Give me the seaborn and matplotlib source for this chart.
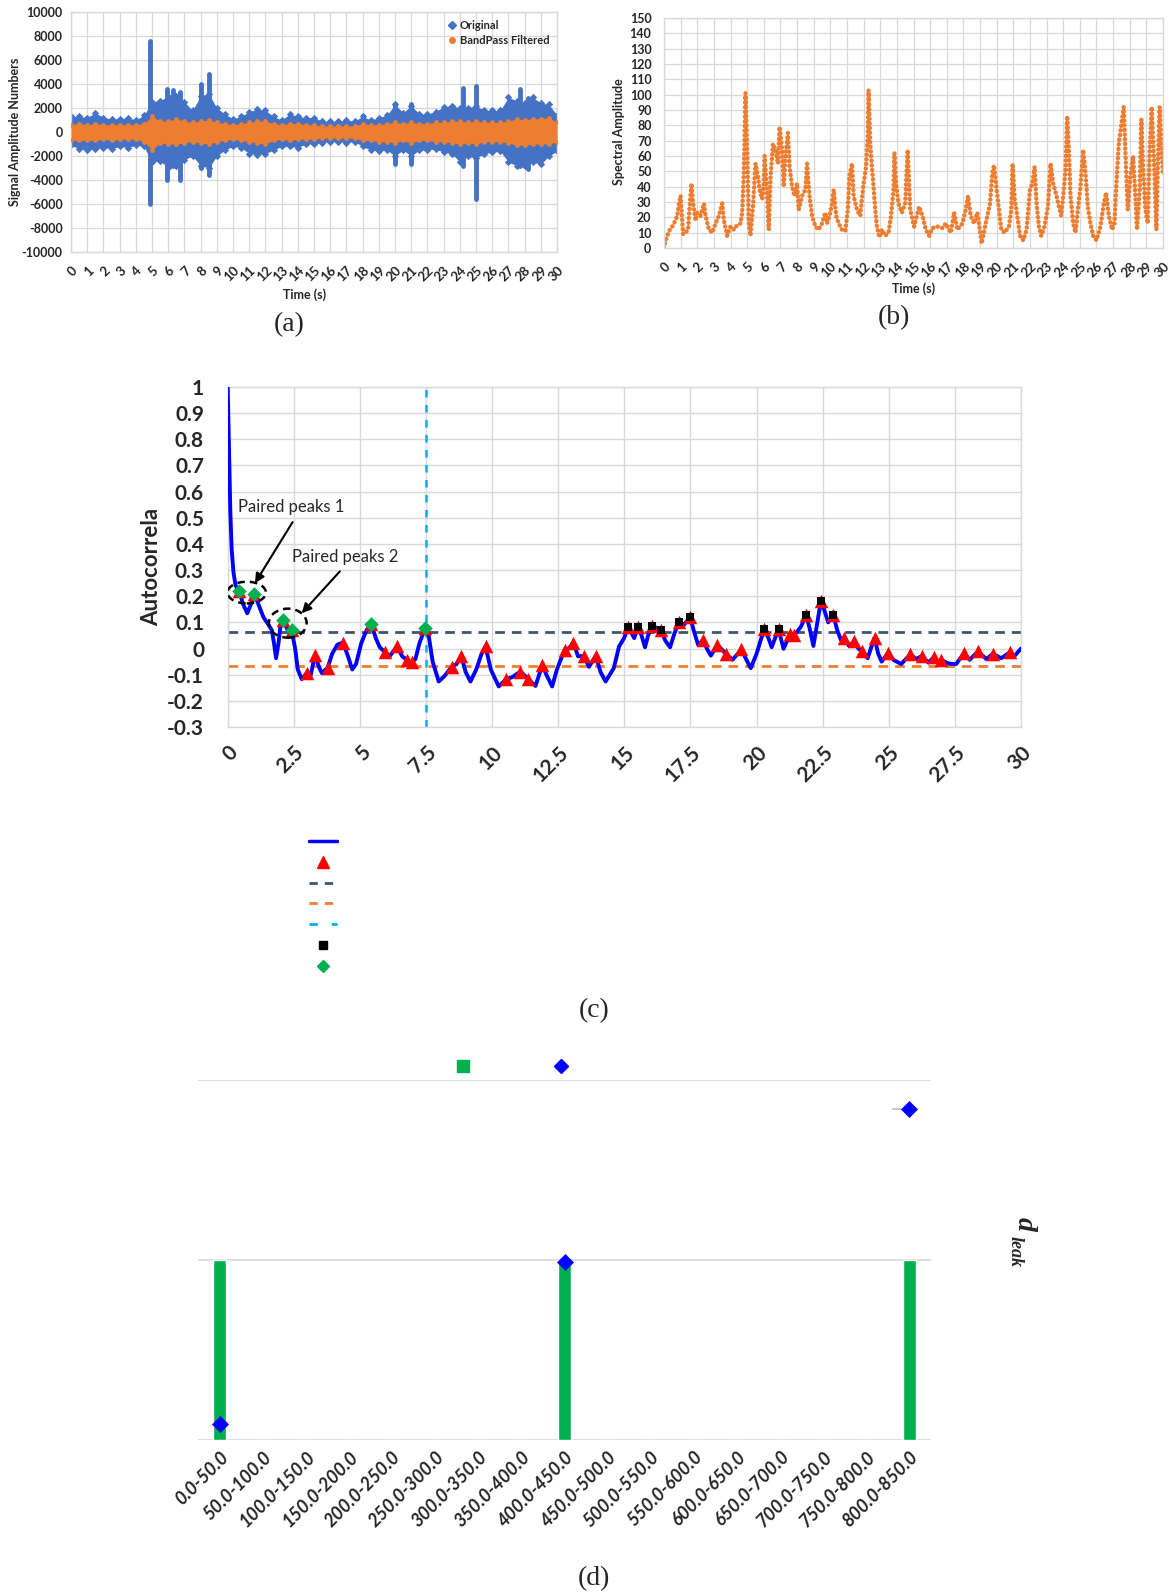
import numpy as np
import pandas as pd
import matplotlib
matplotlib.use("Agg")
import matplotlib.pyplot as plt
from matplotlib.lines import Line2D
from matplotlib.patches import Ellipse
from matplotlib.transforms import ScaledTranslation
import seaborn as sns

# ---------------- (a) raw vs band-pass signal (envelopes every 0.5 s) ----------------
env_t = [i * 0.5 for i in range(61)]
orig_hi = [1300, 1300, 1200, 1600, 1200, 1100, 1100, 1200, 1000, 1400,
           2500, 2600, 3000, 3000, 2500, 1800, 3000, 3200, 2000, 1500,
           1100, 1300, 1700, 1900, 1800, 1300, 1000, 1500, 1300, 1200,
           1200, 900, 900, 900, 1000, 900, 1300, 1000, 1200, 1400,
           2300, 1600, 2200, 1500, 1500, 1700, 2100, 2200, 2000, 2000,
           2200, 1800, 1800, 1800, 2900, 2600, 2400, 2900, 2400, 2300,
           1400]
orig_lo = [-1100, -1400, -1500, -1400, -1300, -1400, -1200, -1300, -1100, -1200,
           -2500, -2400, -3000, -2800, -2300, -2000, -2800, -3000, -2000, -1500,
           -1200, -1300, -1800, -1900, -1800, -1500, -1200, -1200, -1300, -1000,
           -1000, -900, -800, -800, -900, -800, -1200, -1500, -1600, -1500,
           -2000, -1500, -2000, -1500, -1500, -1400, -1700, -1800, -2500, -2000,
           -2200, -1800, -1700, -1600, -2500, -2800, -2800, -2500, -2700, -2000,
           -1600]
filt_hi = [600, 700, 600, 700, 600, 600, 600, 600, 600, 700,
           1300, 900, 900, 1100, 900, 800, 900, 1000, 800, 700,
           600, 700, 800, 900, 900, 700, 600, 700, 700, 600,
           600, 500, 500, 500, 500, 500, 700, 600, 600, 700,
           800, 700, 800, 700, 700, 800, 800, 900, 900, 800,
           900, 800, 800, 800, 900, 1100, 1000, 1100, 1100, 1200,
           800]
filt_lo = [-700, -700, -700, -700, -600, -700, -600, -600, -600, -800,
           -1500, -900, -1000, -1000, -900, -800, -900, -1000, -800, -700,
           -600, -700, -800, -900, -1000, -700, -600, -700, -600, -600,
           -600, -500, -500, -500, -500, -500, -700, -700, -800, -800,
           -900, -700, -900, -700, -700, -800, -800, -900, -1000, -900,
           -1000, -800, -800, -800, -900, -1100, -1100, -1000, -1000, -1000,
           -800]
# isolated bursts of the raw signal
burst_t = [4.9, 5.9, 6.3, 6.7, 8.0, 8.5, 20.0, 21.0, 24.2, 25.0, 27.7, 28.2]
burst_hi = [7600, 3600, 3500, 3300, 4000, 4800, 2300, 2300, 3700, 3800, 3600, 2800]
burst_lo = [-6000, -4000, -2800, -4000, -3000, -3600, -2700, -2700, -2800, -5600, -2800, -3100]

# ---------------- (b) spectral amplitude trace ----------------
spec_t = [0.0, 0.1, 0.3, 0.5, 0.6, 0.8, 0.9, 1.0, 1.05, 1.15, 1.3, 1.45, 1.5, 1.65, 1.75, 1.9,
          2.0, 2.2, 2.4, 2.5, 2.7, 2.9, 3.1, 3.3, 3.5, 3.6, 3.8, 4.0, 4.2, 4.4, 4.6, 4.7, 4.8,
          4.9, 4.95, 5.0, 5.1, 5.2, 5.35, 5.5, 5.65, 5.75, 5.9, 6.0, 6.05, 6.2, 6.3, 6.4, 6.55,
          6.7, 6.85, 6.95, 7.1, 7.2, 7.3, 7.45, 7.55, 7.7, 7.85, 8.0, 8.1, 8.3, 8.5, 8.6, 8.75,
          8.9, 9.1, 9.3, 9.5, 9.7, 9.8, 9.95, 10.1, 10.2, 10.35, 10.5, 10.7, 10.9, 11.05, 11.15,
          11.3, 11.4, 11.6, 11.8, 11.9, 12.0, 12.15, 12.25, 12.3, 12.4, 12.5, 12.6, 12.7, 12.8,
          12.95, 13.1, 13.3, 13.5, 13.65, 13.8, 13.85, 13.95, 14.1, 14.3, 14.5, 14.65, 14.8,
          15.04, 15.34, 15.54, 15.74, 15.94, 16.14, 16.44, 16.74, 16.94, 17.24, 17.44, 17.64,
          17.94, 18.14, 18.28, 18.44, 18.64, 18.84, 19.1, 19.34, 19.6, 19.74, 19.84, 20.0,
          20.14, 20.28, 20.48, 20.74, 20.88, 20.96, 21.08, 21.24, 21.4, 21.6, 21.8, 22.0, 22.14,
          22.28, 22.4, 22.54, 22.68, 22.88, 23.08, 23.24, 23.4, 23.6, 23.74, 23.88, 24.0, 24.14,
          24.24, 24.34, 24.44, 24.6, 24.74, 24.88, 25.04, 25.2, 25.34, 25.48, 25.64, 25.8, 26.0,
          26.24, 26.44, 26.58, 26.74, 26.94, 27.08, 27.2, 27.34, 27.48, 27.64, 27.74, 27.88,
          28.04, 28.2, 28.34, 28.44, 28.6, 28.7, 28.8, 28.94, 29.08, 29.2, 29.32, 29.48, 29.6,
          29.68, 29.8, 29.9, 30.0]
spec_v = [0, 5, 11, 14, 16, 21, 29, 34, 25, 9, 10, 12, 21, 42, 29, 18,
          23, 21, 29, 21, 12, 10, 16, 21, 29, 18, 8, 14, 12, 15, 16, 23, 49,
          101, 82, 64, 16, 8, 27, 55, 47, 38, 32, 42, 60, 34, 12, 45, 68,
          64, 55, 79, 64, 40, 60, 75, 53, 40, 34, 42, 25, 34, 38, 55, 34,
          21, 14, 12, 16, 23, 16, 21, 29, 38, 21, 16, 12, 11, 25, 47,
          55, 34, 25, 21, 32, 42, 53, 73, 103, 68, 53, 40, 25, 14,
          7, 12, 8, 10, 21, 38, 62, 42, 29, 23, 29, 64, 25,
          14, 27, 21, 12, 8, 13, 14, 13, 16, 10, 23, 12,
          16, 25, 34, 21, 16, 23, 3, 16, 29, 49, 54, 38,
          25, 12, 10, 14, 25, 55, 32, 21, 8, 5, 12, 38, 42,
          53, 29, 14, 8, 14, 27, 55, 42, 34, 27, 21, 34, 51,
          86, 64, 34, 16, 10, 25, 40, 64, 49, 27, 16, 8, 5,
          14, 29, 36, 21, 12, 16, 42, 68, 79, 92, 62, 25,
          47, 60, 34, 12, 38, 84, 53, 25, 16, 64, 92, 51, 12,
          51, 92, 68, 47]

# ---------------- (c) autocorrelation ----------------
acf_t = [0.00, 0.05, 0.10, 0.15, 0.22, 0.30, 0.44, 0.58, 0.74, 0.88, 1.00, 1.12, 1.35, 1.55,
         1.67, 1.75, 1.83, 1.92, 2.00, 2.08, 2.25, 2.42, 2.55, 2.65, 2.80, 2.99, 3.12, 3.30,
         3.45, 3.56, 3.78, 3.95, 4.15, 4.36, 4.55, 4.71, 4.85, 5.05, 5.25, 5.43, 5.60, 5.75,
         5.96, 6.12, 6.40, 6.60, 6.78, 6.88, 6.97, 7.10, 7.25, 7.47, 7.60, 7.75, 7.98, 8.20,
         8.48, 8.65, 8.83, 9.00, 9.18, 9.40, 9.60, 9.75, 9.95, 10.25, 10.54, 10.75, 11.07,
         11.20, 11.36, 11.64, 11.90, 12.05, 12.27, 12.45, 12.74, 12.90, 13.07, 13.25, 13.47,
         13.66, 13.92, 14.10, 14.29, 14.45, 14.60, 14.80, 14.99, 15.15, 15.37, 15.53, 15.65,
         15.78, 15.90, 16.06, 16.39, 16.55, 16.73, 16.90, 17.08, 17.25, 17.49, 17.62, 17.79,
         17.98, 18.12, 18.27, 18.52, 18.84, 19.09, 19.43, 19.60, 19.78, 20.00, 20.15, 20.29,
         20.45, 20.57, 20.83, 21.02, 21.20, 21.33, 21.50, 21.68, 21.88, 22.00, 22.15, 22.30,
         22.43, 22.55, 22.71, 22.90, 23.05, 23.19, 23.29, 23.50, 23.70, 23.85, 24.00, 24.20,
         24.46, 24.60, 24.73, 24.96, 25.20, 25.47, 25.82, 26.03, 26.26, 26.50, 26.70, 26.85,
         26.98, 27.20, 27.36, 27.55, 27.84, 28.06, 28.37, 28.69, 28.94, 29.25, 29.57, 29.74,
         30.00]
acf_v = [1.00, 0.75, 0.52, 0.38, 0.29, 0.24, 0.22, 0.17, 0.135, 0.17, 0.21, 0.18, 0.12, 0.09,
         0.07, 0.02, -0.037, 0.02, 0.09, 0.11, 0.075, 0.07, 0.0, -0.08, -0.117, -0.094, -0.11, -0.025,
         -0.07, -0.094, -0.073, -0.02, 0.015, 0.023, -0.03, -0.08, -0.06, 0.02, 0.07, 0.094, 0.04, 0.005,
         -0.015, -0.03, 0.008, -0.03, -0.043, -0.055, -0.05, -0.04, 0.02, 0.08, 0.05, -0.05, -0.126, -0.105,
         -0.069, -0.06, -0.028, -0.09, -0.126, -0.08, -0.02, 0.008, -0.08, -0.145, -0.116, -0.11, -0.088,
         -0.10, -0.117, -0.143, -0.062, -0.10, -0.145, -0.08, -0.005, 0.0, 0.023, -0.03, -0.028,
         -0.07, -0.028, -0.09, -0.126, -0.10, -0.075, 0.008, 0.04, 0.084, 0.04, 0.084, 0.05,
         0.005, 0.05, 0.088, 0.069, 0.03, 0.005, 0.06, 0.103, 0.09, 0.12, 0.07, 0.014,
         0.033, 0.0, -0.027, 0.014, -0.02, -0.043, -0.003, -0.04, -0.075, -0.02, 0.03, 0.075,
         0.04, 0.005, 0.074, -0.001, 0.04, 0.055, 0.06, 0.084, 0.129, 0.08, 0.01, 0.10,
         0.18, 0.15, 0.10, 0.129, 0.07, 0.033, 0.04, 0.01, 0.027, 0.0, -0.011, -0.037,
         0.042, -0.02, -0.05, -0.018, -0.045, -0.059, -0.022, -0.04, -0.028, -0.054, -0.033, -0.05,
         -0.043, -0.055, -0.059, -0.059, -0.018, -0.043, -0.011, -0.04, -0.02, -0.037, -0.015, -0.03,
         0.0]
peak_t = [0.44, 1.00, 2.08, 2.42, 2.99, 3.30, 3.78, 4.36, 5.43, 5.96, 6.40, 6.78, 6.97, 7.47,
          8.48, 8.83, 9.75, 10.54, 11.07, 11.36, 11.90, 12.74, 13.07, 13.47, 13.92, 15.15, 15.53,
          16.06, 16.39, 17.08, 17.49, 17.98, 18.52, 18.84, 19.43, 20.29, 20.83, 21.28, 21.40,
          21.88, 22.43, 22.90, 23.29, 23.70, 24.00, 24.46, 24.96, 25.82, 26.26, 26.70, 26.98,
          27.84, 28.37, 28.94, 29.57]
peak_v = [0.22, 0.21, 0.11, 0.07, -0.094, -0.025, -0.073, 0.023, 0.094, -0.015, 0.008, -0.043,
          -0.05, 0.08, -0.069, -0.028, 0.008, -0.116, -0.088, -0.117, -0.062, -0.005, 0.023, -0.028,
          -0.028, 0.084, 0.084, 0.088, 0.069, 0.103, 0.12, 0.033, 0.014, -0.02, -0.003, 0.075,
          0.074, 0.055, 0.05, 0.129, 0.18, 0.129, 0.04, 0.027, -0.011, 0.042, -0.018, -0.022,
          -0.028, -0.033, -0.043, -0.018, -0.011, -0.02, -0.015]
above_t = [15.15, 15.53, 16.06, 16.39, 17.08, 17.49, 20.29, 20.83, 21.88, 22.43, 22.90]
above_v = [0.084, 0.084, 0.088, 0.069, 0.103, 0.12, 0.075, 0.074, 0.129, 0.18, 0.129]
paired_t = [0.44, 1.00, 2.08, 2.42, 5.43, 7.47]
paired_v = [0.22, 0.21, 0.11, 0.07, 0.094, 0.08]
upper_thr = 0.065
lower_thr = -0.066
period_lag = 7.5

# ---------------- (d) leak-distance bins ----------------
bins = ["0.0-50.0", "50.0-100.0", "100.0-150.0", "150.0-200.0", "200.0-250.0",
        "250.0-300.0", "300.0-350.0", "350.0-400.0", "400.0-450.0", "450.0-500.0",
        "500.0-550.0", "550.0-600.0", "600.0-650.0", "650.0-700.0", "700.0-750.0",
        "750.0-800.0", "800.0-850.0"]
bin_hits = [1, 0, 0, 0, 0, 0, 0, 0, 1, 0, 0, 0, 0, 0, 0, 0, 1]
leak_bins = ["0.0-50.0", "400.0-450.0", "800.0-850.0"]
leak_d = [0.09, 0.99, 1.84]

# ---------------- styling ----------------
sns.set_theme(style="white")
plt.rcParams["font.family"] = ["Lato", "DejaVu Sans"]
plt.rcParams["axes.unicode_minus"] = False

BLUE_A = "#4472c4"
ORANGE = "#ed7d31"
GRID = "#d9d9d9"

W, H = 1172, 1593
fig = plt.figure(figsize=(W / 100, H / 100), dpi=100)


def box(l, t, r, b):
    return [l / W, 1 - b / H, (r - l) / W, (b - t) / H]


def light_frame(ax):
    for s in ax.spines.values():
        s.set_color(GRID)
        s.set_linewidth(1)
    ax.tick_params(length=0)


def shift_labels(labels, dx_px, dy_px):
    off = ScaledTranslation(dx_px / 100, dy_px / 100, fig.dpi_scale_trans)
    for lbl in labels:
        lbl.set_transform(lbl.get_transform() + off)


# ---- panel (a) ----
axa = fig.add_axes(box(71, 12, 557, 252))
axa.fill_between(env_t, orig_lo, orig_hi, color=BLUE_A, lw=0, zorder=2)
sns.scatterplot(x=env_t, y=orig_hi, ax=axa, color=BLUE_A, marker="D", s=14, linewidth=0, zorder=2)
sns.scatterplot(x=env_t, y=orig_lo, ax=axa, color=BLUE_A, marker="D", s=14, linewidth=0, zorder=2)
axa.vlines(burst_t, burst_lo, burst_hi, color=BLUE_A, lw=3.5, capstyle="round", zorder=2)
axa.fill_between(env_t, filt_lo, filt_hi, color=ORANGE, lw=0, zorder=3)
sns.scatterplot(x=env_t, y=filt_hi, ax=axa, color=ORANGE, s=12, linewidth=0, zorder=3)
sns.scatterplot(x=env_t, y=filt_lo, ax=axa, color=ORANGE, s=12, linewidth=0, zorder=3)
axa.set_xlim(0, 30)
axa.set_ylim(-10000, 10000)
axa.set_xticks(range(0, 31))
axa.set_xticklabels([str(i) for i in range(31)], rotation=45, ha="right", va="top",
                    rotation_mode="anchor", fontsize=9.5, fontweight="bold")
axa.set_yticks(range(-10000, 10001, 2000))
axa.set_yticklabels([str(v) for v in range(-10000, 10001, 2000)], fontsize=9, fontweight="bold")
axa.grid(True, color=GRID, lw=0.9)
axa.set_axisbelow(True)
light_frame(axa)
axa.tick_params(axis="x", pad=9)
axa.tick_params(axis="y", pad=6)
axa.set_xlabel("")
axa.set_ylabel("")
leg_a = [Line2D([], [], ls="none", marker="D", ms=4, color=BLUE_A),
         Line2D([], [], ls="none", marker="o", ms=4, color=ORANGE)]
axa.legend(leg_a, ["Original", "BandPass Filtered"], loc="upper right", frameon=False,
           prop={"weight": "bold", "size": 8}, handlelength=0.8, handletextpad=0.3,
           labelspacing=0.35, borderaxespad=0.3)
fig.text(15 / W, 1 - 132 / H, "Signal Amplitude Numbers", rotation=90, ha="center",
         va="center", fontsize=9, fontweight="bold")
fig.text(305 / W, 1 - 295 / H, "Time (s)", ha="center", va="center", fontsize=9, fontweight="bold")

# ---- panel (b) ----
axb = fig.add_axes(box(664, 18, 1163, 248))
sns.lineplot(x=spec_t, y=spec_v, ax=axb, sort=False, color=ORANGE, lw=3.2,
             linestyle=(0, (0.05, 1.0)), dash_capstyle="round", estimator=None)
axb.set_xlim(0, 30)
axb.set_ylim(0, 150)
axb.set_xticks(range(0, 31))
axb.set_xticklabels([str(i) for i in range(31)], rotation=45, ha="right", va="top",
                    rotation_mode="anchor", fontsize=9.5, fontweight="bold")
axb.set_yticks(range(0, 151, 10))
axb.set_yticklabels([str(v) for v in range(0, 151, 10)], fontsize=9, fontweight="bold")
axb.grid(True, color=GRID, lw=0.9)
axb.set_axisbelow(True)
light_frame(axb)
axb.tick_params(axis="x", pad=9)
axb.tick_params(axis="y", pad=9)
axb.set_xlabel("")
axb.set_ylabel("")
fig.text(619 / W, 1 - 132 / H, "Spectral Amplitude", rotation=90, ha="center",
         va="center", fontsize=9, fontweight="bold")
fig.text(914 / W, 1 - 289 / H, "Time (s)", ha="center", va="center", fontsize=9, fontweight="bold")

# ---- panel (c) ----
axc = fig.add_axes(box(227.7, 387, 1021, 727))
axc.axhline(upper_thr, color="#44546a", lw=2, ls=(0, (3.5, 2.5)), zorder=2)
axc.axhline(lower_thr, color=ORANGE, lw=2, ls=(0, (3.5, 2.5)), zorder=2)
axc.axvline(period_lag, color="#00b0f0", lw=1.8, ls=(0, (3, 3)), zorder=2)
sns.lineplot(x=acf_t, y=acf_v, ax=axc, sort=False, color="#0000ff", lw=2.8, estimator=None, zorder=3)
sns.scatterplot(x=peak_t, y=peak_v, ax=axc, marker="^", color="#ff0000", s=95, linewidth=0, zorder=4)
sns.scatterplot(x=above_t, y=above_v, ax=axc, marker="s", color="black", s=40, linewidth=0, zorder=5)
sns.scatterplot(x=paired_t, y=paired_v, ax=axc, marker="D", color="#00b050", s=55, linewidth=0, zorder=5)
axc.set_xlim(0, 30)
axc.set_ylim(-0.3, 1.0)
xt = [0, 2.5, 5, 7.5, 10, 12.5, 15, 17.5, 20, 22.5, 25, 27.5, 30]
axc.set_xticks(xt)
axc.set_xticklabels(["0", "2.5", "5", "7.5", "10", "12.5", "15", "17.5", "20", "22.5", "25",
                     "27.5", "30"], rotation=45, ha="right", va="top", rotation_mode="anchor",
                    fontsize=15, fontweight="bold")
yt = [round(-0.3 + 0.1 * i, 1) for i in range(14)]
axc.set_yticks(yt)
axc.set_yticklabels(["0" if v == 0 else ("1" if v == 1 else f"{v:.1f}") for v in yt],
                    fontsize=15, fontweight="bold")
axc.tick_params(axis="x", pad=11)
axc.tick_params(axis="y", pad=17)
shift_labels(axc.get_xticklabels(), -10, 0)
axc.grid(True, color=GRID, lw=1)
axc.set_axisbelow(True)
light_frame(axc)
axc.set_xlabel("")
axc.set_ylabel("")
fig.text(152 / W, 1 - 567 / H, "Autocorrela", rotation=90, ha="center", va="center",
         fontsize=16, fontweight="bold")
# paired-peak call-outs
axc.add_patch(Ellipse((0.72, 0.214), 1.45, 0.083, fill=False, ls=(0, (3, 2)), lw=1.8,
                      color="black", zorder=6))
axc.add_patch(Ellipse((2.27, 0.097), 1.43, 0.111, fill=False, ls=(0, (3, 2)), lw=1.8,
                      color="black", zorder=6))
axc.annotate("Paired peaks 1", xy=(1.03, 0.25), xytext=(0.4, 0.54), fontsize=12,
             ha="left", va="center",
             arrowprops=dict(arrowstyle="-|>", color="black", lw=1.5, shrinkA=3, shrinkB=0,
                             mutation_scale=14, relpos=(0.55, 0.0)),
             zorder=7)
axc.annotate("Paired peaks 2", xy=(2.8, 0.135), xytext=(2.45, 0.35), fontsize=12,
             ha="left", va="center",
             arrowprops=dict(arrowstyle="-|>", color="black", lw=1.5, shrinkA=3, shrinkB=0,
                             mutation_scale=14, relpos=(0.5, 0.0)),
             zorder=7)

leg_c = [Line2D([], [], color="#0000ff", lw=2.5),
         Line2D([], [], ls="none", marker="^", ms=9, color="#ff0000"),
         Line2D([], [], color="#44546a", lw=2, ls=(0, (3, 2.5))),
         Line2D([], [], color=ORANGE, lw=2, ls=(0, (3, 2.5))),
         Line2D([], [], color="#00b0f0", lw=2, ls=(0, (3, 5))),
         Line2D([], [], ls="none", marker="s", ms=6, color="black"),
         Line2D([], [], ls="none", marker="D", ms=6.5, color="#00b050")]
fig.legend(leg_c, [" "] * 7, loc="upper left", bbox_to_anchor=(309 / W, 1 - 836 / H),
           frameon=False, fontsize=10, handlelength=2, labelspacing=0.63, borderpad=0,
           borderaxespad=0)

# ---- panel (d) ----
axd = fig.add_axes(box(198, 1080, 931, 1440))
dfd = pd.DataFrame({"bin": bins, "hits": bin_hits})
sns.barplot(data=dfd, x="bin", y="hits", ax=axd, color="#00b050", width=0.3, saturation=1,
            order=bins)
axd.set_ylim(0, 2)
axd.set_xlim(-0.5, 16.5)
axd.set_yticks([0, 1, 2])
axd.set_yticklabels([])
axd.grid(True, axis="y", color=GRID, lw=1.2)
axd.set_axisbelow(True)
for s in axd.spines.values():
    s.set_visible(False)
axd.tick_params(length=0)
axd.set_xticks(range(len(bins)))
axd.set_xticklabels(bins, rotation=45, ha="right", va="top", rotation_mode="anchor",
                    fontsize=13, fontweight="bold", fontstyle="italic",
                    family=["Liberation Sans Narrow", "Lato", "DejaVu Sans"])
axd.tick_params(axis="x", pad=6)
axd.set_xlabel("")
axd.set_ylabel("")
axd2 = axd.twinx()
axd2.set_ylim(0, 2)
dfl = pd.DataFrame({"bin": leak_bins, "d": leak_d})
dfl["pos"] = [bins.index(b) for b in leak_bins]
axd2.errorbar(dfl["pos"].iloc[-1:], dfl["d"].iloc[-1:], xerr=[[0.4], [0]], fmt="none",
              ecolor="#bfbfbf", elinewidth=1.2, zorder=1)
sns.scatterplot(data=dfl, x="pos", y="d", ax=axd2, marker="D", color="#0000ff", s=75,
                linewidth=0, zorder=3)
axd2.set_yticks([])
axd2.set_xlim(-0.5, 16.5)
for s in axd2.spines.values():
    s.set_visible(False)
axd2.set_ylabel("")
axd2.set_xlabel("")
leg_d = [Line2D([], [], ls="none", marker="s", ms=9, color="#00b050"),
         Line2D([], [], ls="none", marker="D", ms=7, color="#0000ff")]
fig.legend(leg_d, [" ", " "], loc="center", bbox_to_anchor=(519 / W, 1 - 1067 / H), ncol=2,
           frameon=False, fontsize=10, handlelength=2, columnspacing=4.0)
# secondary-axis title d_leak (rotated, subscript drawn separately)
fig.text(1024 / W, 1 - 1224 / H, "d", rotation=-90, ha="center", va="center", fontsize=20,
         fontweight="bold", fontstyle="italic", family=["Liberation Serif", "DejaVu Serif"])
fig.text(1015 / W, 1 - 1251 / H, "leak", rotation=-90, ha="center", va="center", fontsize=13,
         fontweight="bold", fontstyle="italic", family=["Liberation Serif", "DejaVu Serif"])

# ---- panel captions ----
for x, y, s in [(289, 325, "(a)"), (894, 318, "(b)"), (594, 1011, "(c)"), (594, 1579, "(d)")]:
    fig.text(x / W, 1 - y / H, s, ha="center", va="center", fontsize=20,
             family=["Liberation Serif", "DejaVu Serif"])

fig.savefig("out.png", dpi=100, facecolor="white")
